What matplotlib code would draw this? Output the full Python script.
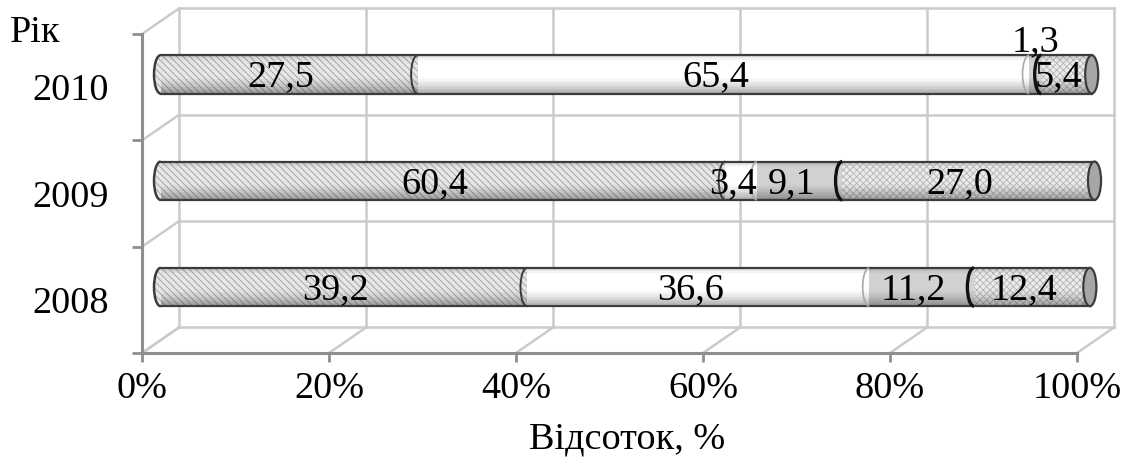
import matplotlib
matplotlib.use("Agg")
import matplotlib.pyplot as plt
import matplotlib.transforms as mtransforms
from matplotlib.patches import Rectangle, Ellipse, Arc


# -----
# DATA
# -----
years = ["2008", "2009", "2010"]
share_1 = [39.2, 60.4, 27.5]
share_2 = [36.6, 3.4, 65.4]
share_3 = [11.2, 9.1, 1.3]
share_4 = [12.4, 27.0, 5.4]
x_ticks = [0, 20, 40, 60, 80, 100]
x_tick_labels = ["0%", "20%", "40%", "60%", "80%", "100%"]
x_title = "Відсоток, %"
y_title = "Рік"


# -------
# STYLES
# -------
plt.rcParams["font.family"] = ["Liberation Serif", "DejaVu Serif"]
plt.rcParams["hatch.linewidth"] = 0.6

FONT_SIZE = 27.5
faces = ["#e6e6e6", "#ffffff", "#d2d2d2", "#ebebeb"]
hatches = ["\\\\\\\\\\", "", "", "xxxxx"]
hatch_colors = ["#9e9e9e", "#ffffff", "#d2d2d2", "#b4b4b4"]
start_arc_colors = [None, "#3a3a3a", "#a8a8a8", "#111111"]
start_arc_widths = [0, 1.4, 1.2, 2.4]
grid_color = "#cbcbcb"
axis_color = "#8f8f8f"
outline_color = "#3c3c3c"

BAR_H = 0.36
CAP_W = 1.4
DEPTH_PX = (37, 25.5)

fig = plt.figure(figsize=(11.23, 4.59), dpi=100)
ax = fig.add_axes([0.1265, 0.231, 0.8325, 0.695])
ax.set_xlim(0, 100)
ax.set_ylim(-0.5, 2.5)

# depth of the 3d box in data units
ax_w_px = 0.8325 * 11.23 * 100
ax_h_px = 0.695 * 4.59 * 100
dx = DEPTH_PX[0] / ax_w_px * 100
dy = DEPTH_PX[1] / ax_h_px * 3

back = mtransforms.Affine2D().translate(dx, dy) + ax.transData
mid = mtransforms.Affine2D().translate(dx / 2, dy / 2) + ax.transData
label_tr = mtransforms.offset_copy(mid, fig=fig, x=-8, y=-3, units="dots")

# back wall, floor and left wall
y_bounds = [-0.5, 0.5, 1.5, 2.5]
for xv in x_ticks:
    ax.plot([xv, xv], [-0.5, 2.5], color=grid_color, lw=1.8, transform=back, clip_on=False, zorder=1)
    ax.plot([xv, xv + dx], [-0.5, -0.5 + dy], color=grid_color, lw=1.8, clip_on=False, zorder=1)
for yv in y_bounds:
    ax.plot([0, 100], [yv, yv], color=grid_color, lw=1.8, transform=back, clip_on=False, zorder=1)
    ax.plot([0, dx], [yv, yv + dy], color=grid_color, lw=1.8, clip_on=False, zorder=1)


def shade(t):
    # darker underside and a thin dark rim on top of the cylinder
    return 0.34 * max(0.0, 1 - t / 0.45) ** 1.4 + 0.14 * max(0.0, (t - 0.84) / 0.16)


series = [share_1, share_2, share_3, share_4]
for i, year in enumerate(years):
    values = [s[i] for s in series]
    total = sum(values)
    y0 = i - BAR_H / 2

    # rounded left end of the cylinder
    ax.add_patch(Ellipse((0, i), CAP_W, BAR_H, facecolor=faces[0], edgecolor=hatch_colors[0],
                         hatch=hatches[0], lw=0, transform=mid, clip_on=False, zorder=2))
    ax.add_patch(Arc((0, i), CAP_W, BAR_H, theta1=90, theta2=270, color=outline_color,
                     lw=1.8, transform=mid, clip_on=False, zorder=4))

    left = 0
    for k, v in enumerate(values):
        ax.add_patch(Rectangle((left, y0), v, BAR_H, facecolor=faces[k], edgecolor=hatch_colors[k],
                               hatch=hatches[k], lw=0, transform=mid, clip_on=False, zorder=3))
        left += v

    n = 24
    for j in range(n):
        t = (j + 0.5) / n
        ax.add_patch(Rectangle((0, y0 + j * BAR_H / n), total, BAR_H / n, facecolor="black",
                               alpha=shade(t), lw=0, transform=mid, clip_on=False, zorder=3.5))

    ax.plot([0, total], [y0, y0], color=outline_color, lw=1.6, transform=mid, clip_on=False, zorder=4)
    ax.plot([0, total], [y0 + BAR_H, y0 + BAR_H], color=outline_color, lw=1.6, transform=mid,
            clip_on=False, zorder=4)

    # segment starts and value labels
    left = 0
    for k, v in enumerate(values):
        if k > 0:
            ax.add_patch(Arc((left, i), CAP_W, BAR_H, theta1=90, theta2=270, color=start_arc_colors[k],
                             lw=start_arc_widths[k], transform=mid, clip_on=False, zorder=4.5))
        label = f"{v:.1f}".replace(".", ",")
        if v < 2:
            ax.text(left + v / 2, i + BAR_H / 2 + 0.04, label, ha="center", va="baseline",
                    fontsize=FONT_SIZE, transform=mid, clip_on=False, zorder=6)
        else:
            ax.text(left + v / 2, i, label, ha="center", va="center", fontsize=FONT_SIZE,
                    transform=label_tr, clip_on=False, zorder=6)
        left += v

    # flat right end
    ax.add_patch(Ellipse((total, i), CAP_W, BAR_H, facecolor="#a6a6a6", edgecolor=outline_color,
                         lw=1.6, transform=mid, clip_on=False, zorder=5))

# front axes
for side in ["top", "right"]:
    ax.spines[side].set_visible(False)
for side in ["left", "bottom"]:
    ax.spines[side].set_color(axis_color)
    ax.spines[side].set_linewidth(2.2)
    ax.spines[side].set_zorder(1.5)

ax.set_xticks(x_ticks)
ax.set_xticklabels(x_tick_labels)
ax.tick_params(axis="x", length=6.5, width=2, color=axis_color, labelsize=FONT_SIZE, pad=7)

ax.set_yticks(y_bounds)
ax.set_yticklabels([])
ax.tick_params(axis="y", which="major", length=7.2, width=2, color=axis_color)
ax.set_yticks(range(len(years)), minor=True)
ax.set_yticklabels(years, minor=True)
ax.tick_params(axis="y", which="minor", length=0, labelsize=FONT_SIZE, pad=24)

ax.set_xlabel(x_title, fontsize=FONT_SIZE, va="top")
ax.xaxis.set_label_coords(0.519, -0.215)
ax.set_ylabel(y_title, fontsize=FONT_SIZE, rotation=0, ha="center", va="baseline")
ax.yaxis.set_label_coords(-0.1144, 0.975)

ax.patch.set_visible(False)

fig.savefig("out.png", dpi=100)
plt.close(fig)
